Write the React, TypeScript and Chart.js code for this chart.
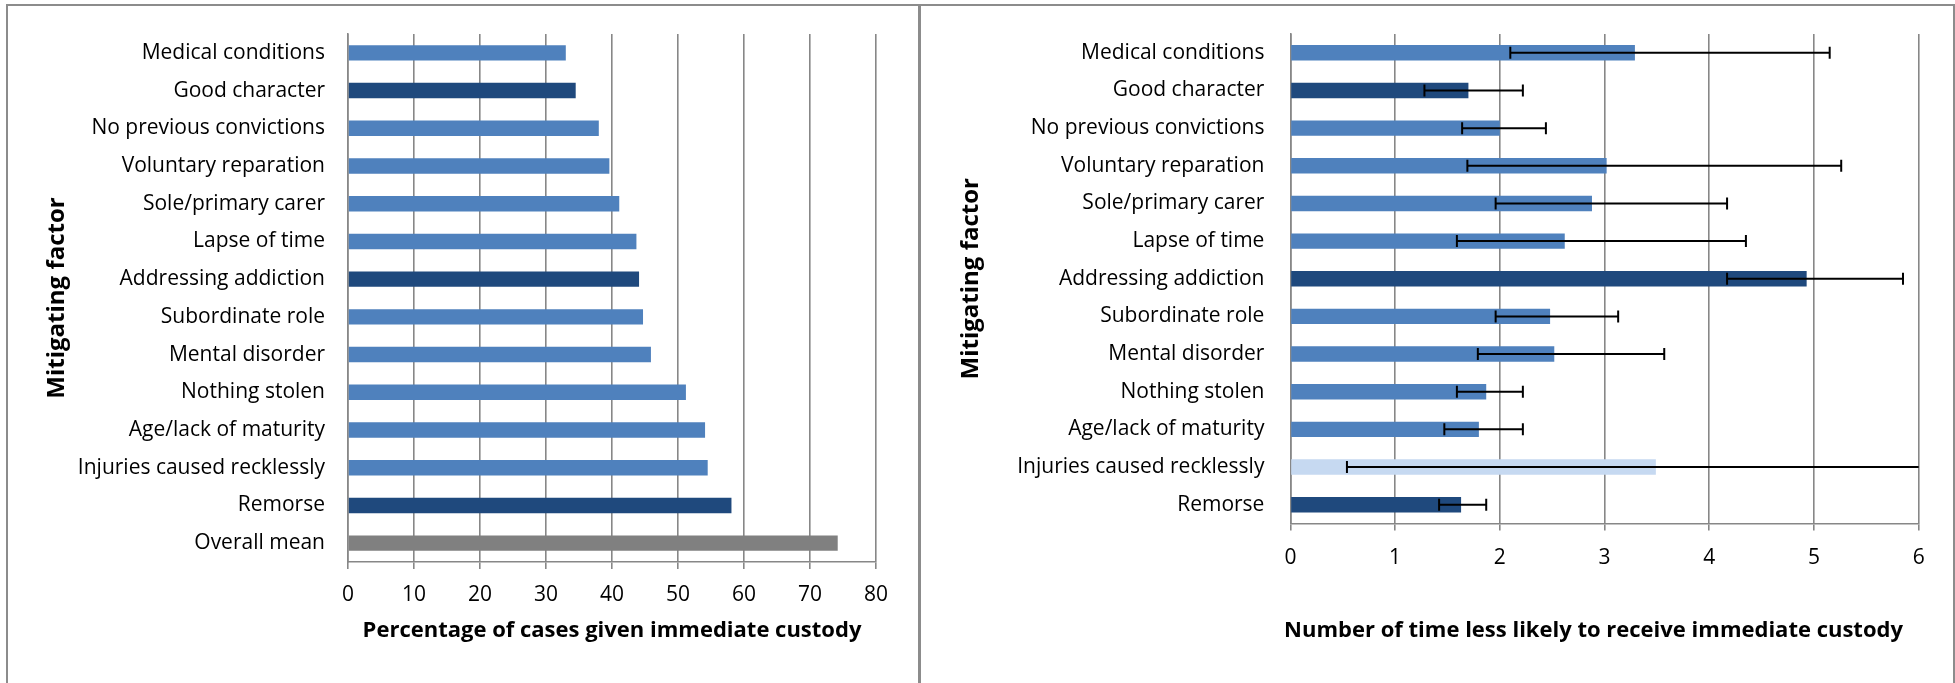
import React, { useEffect, useRef } from "react";
import { Chart, registerables } from "chart.js";

Chart.register(...registerables);

// ---------- data ----------
const leftCategories = [
  "Medical conditions",
  "Good character",
  "No previous convictions",
  "Voluntary reparation",
  "Sole/primary carer",
  "Lapse of time",
  "Addressing addiction",
  "Subordinate role",
  "Mental disorder",
  "Nothing stolen",
  "Age/lack of maturity",
  "Injuries caused recklessly",
  "Remorse",
  "Overall mean",
];
const leftValues = [33.0, 34.5, 38.0, 39.6, 41.1, 43.7, 44.1, 44.7, 45.9, 51.2, 54.1, 54.5, 58.1, 74.2];

const rightCategories = [
  "Medical conditions",
  "Good character",
  "No previous convictions",
  "Voluntary reparation",
  "Sole/primary carer",
  "Lapse of time",
  "Addressing addiction",
  "Subordinate role",
  "Mental disorder",
  "Nothing stolen",
  "Age/lack of maturity",
  "Injuries caused recklessly",
  "Remorse",
];
const rightValues = [3.29, 1.7, 2.0, 3.02, 2.88, 2.62, 4.93, 2.48, 2.52, 1.87, 1.8, 3.49, 1.63];
const rightLower = [2.1, 1.28, 1.64, 1.69, 1.96, 1.59, 4.17, 1.96, 1.79, 1.59, 1.47, 0.54, 1.42];
// upper limit of "Injuries caused recklessly" runs past the axis end (clipped)
const rightUpper = [5.15, 2.22, 2.44, 5.26, 4.17, 4.35, 5.85, 3.13, 3.57, 2.22, 2.22, 6.5, 1.87];

const leftTicksMax = 80;
const leftTickStep = 10;
const rightTicksMax = 6;
const rightTickStep = 1;

const darkCategories = ["Good character", "Addressing addiction", "Remorse"];
const meanCategories = ["Overall mean"];
const uncertainCategories = ["Injuries caused recklessly"];

const leftXTitle = "Percentage of cases given immediate custody";
const rightXTitle = "Number of time less likely to receive immediate custody";
const yTitle = "Mitigating factor";

// ---------- styles ----------
const FONT = '"Open Sans", "DejaVu Sans", sans-serif';
const MID = "#4F81BD";
const DARK = "#1F497D";
const GREY = "#808080";
const LIGHT = "#C6D9F1";
const GRID = "#878787";

function leftColor(c: string) {
  if (meanCategories.includes(c)) return GREY;
  if (darkCategories.includes(c)) return DARK;
  return MID;
}
function rightColor(c: string) {
  if (darkCategories.includes(c)) return DARK;
  if (uncertainCategories.includes(c)) return LIGHT;
  return MID;
}

const xTitlePlugin = {
  id: "xTitle",
  afterDraw(chart: any, _args: any, opts: any) {
    const { ctx, chartArea } = chart;
    ctx.save();
    ctx.font = `bold ${opts.size}px ${FONT}`;
    ctx.fillStyle = "#000";
    ctx.textAlign = "center";
    ctx.textBaseline = "middle";
    ctx.fillText(opts.text, (chartArea.left + chartArea.right) / 2 + opts.dx, chartArea.bottom + opts.dy);
    ctx.restore();
  },
};

const errorBarPlugin = {
  id: "errorBars",
  afterDatasetsDraw(chart: any) {
    const { ctx, chartArea, scales } = chart;
    const x = scales.x;
    const y = scales.y;
    ctx.save();
    ctx.beginPath();
    ctx.rect(chartArea.left, chartArea.top - 20, chartArea.right - chartArea.left, chartArea.bottom - chartArea.top + 40);
    ctx.clip();
    ctx.strokeStyle = "#000";
    ctx.lineWidth = 2;
    const capHalf = 6;
    rightCategories.forEach((_c, i) => {
      const yc = y.getPixelForValue(i);
      const x0 = x.getPixelForValue(rightLower[i]);
      const x1 = x.getPixelForValue(rightUpper[i]);
      ctx.beginPath();
      ctx.moveTo(x0, yc);
      ctx.lineTo(x1, yc);
      ctx.stroke();
      if (rightLower[i] >= x.min) {
        ctx.beginPath();
        ctx.moveTo(x0, yc - capHalf);
        ctx.lineTo(x0, yc + capHalf);
        ctx.stroke();
      }
      if (rightUpper[i] <= x.max) {
        ctx.beginPath();
        ctx.moveTo(x1, yc - capHalf);
        ctx.lineTo(x1, yc + capHalf);
        ctx.stroke();
      }
    });
    ctx.restore();
  },
};

function makeConfig(side: "left" | "right"): any {
  const isLeft = side === "left";
  const labels = isLeft ? leftCategories : rightCategories;
  const values = isLeft ? leftValues : rightValues;
  const colors = labels.map(isLeft ? leftColor : rightColor);
  return {
    type: "bar",
    data: {
      labels,
      datasets: [
        {
          data: values,
          backgroundColor: colors,
          borderWidth: 0,
          barPercentage: 0.41,
          categoryPercentage: 1,
        },
      ],
    },
    options: {
      indexAxis: "y",
      animation: false,
      responsive: false,
      maintainAspectRatio: false,
      events: [],
      layout: { padding: { top: 34, left: 0, right: isLeft ? 43 : 36.3, bottom: 0 } },
      plugins: {
        legend: { display: false },
        tooltip: { enabled: false },
        xTitle: {
          text: isLeft ? leftXTitle : rightXTitle,
          size: 22,
          dx: isLeft ? 0 : -11,
          dy: isLeft ? 69 : 107.5,
        },
      },
      scales: {
        x: {
          type: "linear",
          min: 0,
          max: isLeft ? leftTicksMax : rightTicksMax,
          ticks: {
            stepSize: isLeft ? leftTickStep : rightTickStep,
            color: "#000",
            font: { family: FONT, size: 21 },
            padding: isLeft ? 13 : 15,
            maxRotation: 0,
          },
          grid: { color: GRID, lineWidth: 1.6, tickLength: 7 },
          border: { color: GRID, width: 1.6 },
          afterFit(s: any) {
            s.height = isLeft ? 683 - 562 : 683 - 523.5;
            s.paddingLeft = 0;
            s.paddingRight = 0;
          },
        },
        y: {
          type: "category",
          ticks: { color: "#000", font: { family: FONT, size: 21 }, padding: isLeft ? 23 : 26, autoSkip: false },
          grid: { display: false, drawTicks: false },
          border: { display: true, color: GRID, width: 1.6 },
          title: {
            display: true,
            text: yTitle,
            color: "#000",
            font: { family: FONT, size: 24, weight: "bold" },
            padding: { top: isLeft ? 42.6 : 36.6, bottom: 0 },
          },
          afterFit(s: any) {
            s.width = isLeft ? 348 : 370.4;
            s.paddingTop = 0;
            s.paddingBottom = 0;
          },
        },
      },
    },
    plugins: isLeft ? [xTitlePlugin] : [xTitlePlugin, errorBarPlugin],
  };
}

function ChartCanvas({ side, left, width }: { side: "left" | "right"; left: number; width: number }) {
  const ref = useRef<HTMLCanvasElement | null>(null);
  useEffect(() => {
    let chart: Chart | null = null;
    let cancelled = false;
    const build = () => {
      if (cancelled || !ref.current) return;
      chart = new Chart(ref.current, makeConfig(side));
    };
    const fonts: any = (document as any).fonts;
    if (fonts && fonts.load) {
      Promise.all([fonts.load(`21px ${FONT}`), fonts.load(`bold 21px ${FONT}`)]).then(build, build);
    } else {
      build();
    }
    return () => {
      cancelled = true;
      if (chart) chart.destroy();
    };
  }, [side]);
  return (
    <canvas
      ref={ref}
      width={width}
      height={683}
      style={{ position: "absolute", left, top: 0, width, height: 683 }}
    />
  );
}

const frameColor = "#8c8c8c";

export default function App() {
  return (
    <div
      style={{
        position: "fixed",
        left: 0,
        top: 0,
        width: 1955,
        height: 683,
        background: "#fff",
        overflow: "hidden",
      }}
    >
      <ChartCanvas side="left" left={0} width={919} />
      <ChartCanvas side="right" left={920} width={1035} />
      <div style={{ position: "absolute", left: 6, top: 4, width: 1949, height: 2, background: frameColor }} />
      <div style={{ position: "absolute", left: 6, top: 4, width: 2, height: 679, background: frameColor }} />
      <div style={{ position: "absolute", left: 918, top: 4, width: 2.5, height: 679, background: frameColor }} />
      <div style={{ position: "absolute", left: 1953, top: 4, width: 2, height: 679, background: frameColor }} />
    </div>
  );
}
